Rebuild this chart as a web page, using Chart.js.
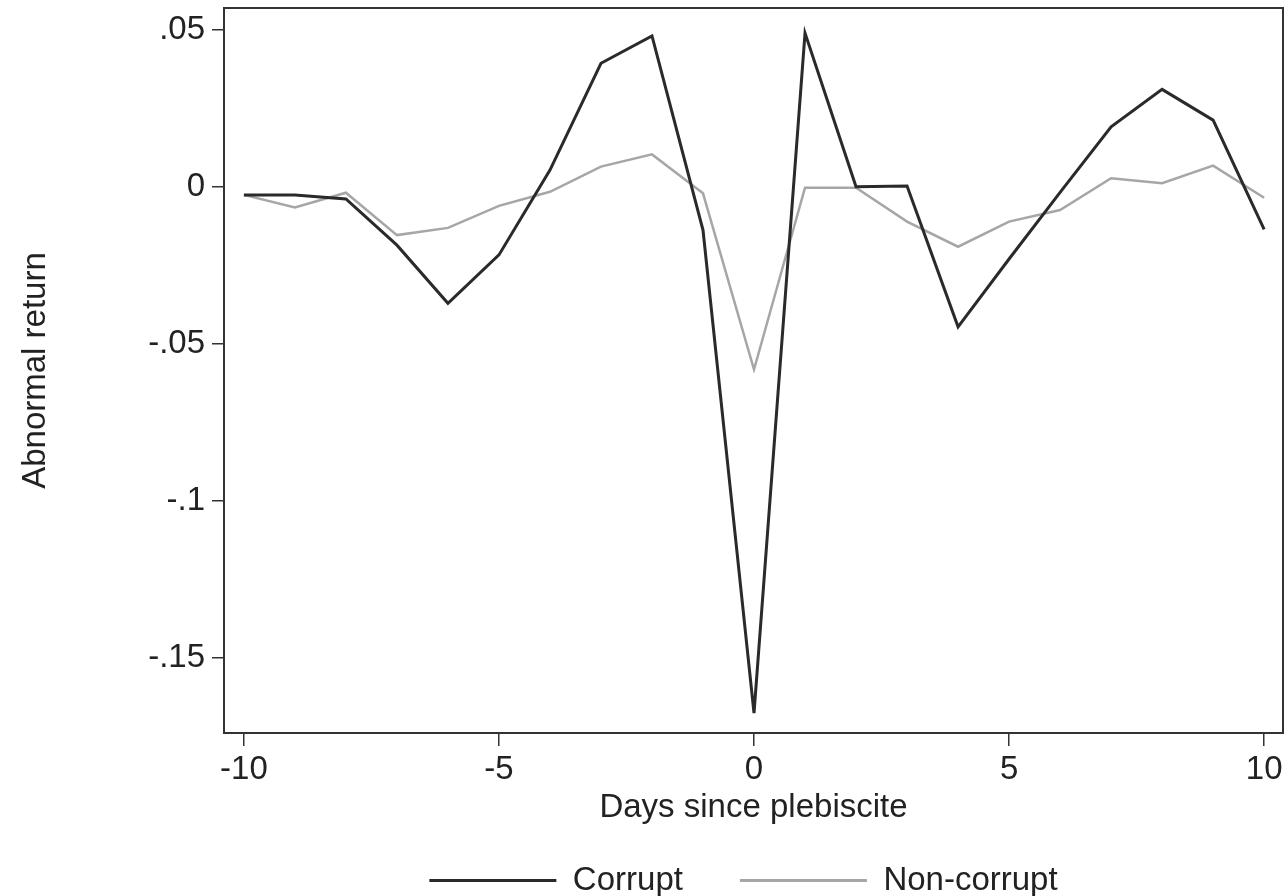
<!DOCTYPE html>
<html>
<head>
<meta charset="utf-8">
<title>Abnormal return around plebiscite</title>
<script src="https://cdn.jsdelivr.net/npm/chart.js@4.4.1/dist/chart.umd.min.js"></script>
<style>
  html, body { margin: 0; padding: 0; background: #fff; }
  #wrap { width: 1288px; height: 896px; }
</style>
</head>
<body>
<div id="wrap"><canvas id="chart" width="1288" height="896"></canvas></div>
<script>
// Days relative to the plebiscite
const days = [-10, -9, -8, -7, -6, -5, -4, -3, -2, -1, 0, 1, 2, 3, 4, 5, 6, 7, 8, 9, 10];

// Abnormal returns
const corrupt = [-0.0026, -0.0026, -0.0039, -0.0186, -0.0371, -0.0217, 0.0053, 0.0393, 0.0480, -0.0138,
  -0.1676, 0.0489, 0.0000, 0.0002, -0.0446, -0.0230, -0.0018, 0.0191, 0.0310, 0.0212, -0.0136];
const nonCorrupt = [-0.0026, -0.0066, -0.0019, -0.0154, -0.0131, -0.0061, -0.0016, 0.0064, 0.0103, -0.0021,
  -0.0582, -0.0003, -0.0003, -0.0111, -0.0191, -0.0111, -0.0074, 0.0027, 0.0011, 0.0067, -0.0035];

const xTicks = [-10, -5, 0, 5, 10];
const yTicks = [0.05, 0, -0.05, -0.1, -0.15];

const FONT = "'Liberation Sans', Arial, Helvetica, sans-serif";
const INK = "#222";

const fmtY = (v) => {
  if (Math.abs(v) < 1e-9) return "0";
  const s = Math.abs(v).toString().replace(/^0/, "");
  return (v < 0 ? "-" : "") + s;
};

// Frame round the plot area and keep the legend centred under it
const framePlugin = {
  id: "frame",
  afterLayout(chart) {
    const a = chart.chartArea;
    const lg = chart.legend;
    if (lg) {
      lg.left = a.left - 10;
      lg.right = a.right - 10;
      lg.top = 807;
    }
  },
  afterDatasetsDraw(chart) {
    const { ctx, chartArea: a } = chart;
    ctx.save();
    ctx.strokeStyle = "#333";
    ctx.lineWidth = 2;
    ctx.strokeRect(a.left, a.top, a.right - a.left, a.bottom - a.top);
    ctx.restore();
  }
};

new Chart(document.getElementById("chart").getContext("2d"), {
  type: "line",
  data: {
    datasets: [
      {
        label: "Corrupt",
        data: days.map((d, i) => ({ x: d, y: corrupt[i] })),
        borderColor: "#2a2a2a",
        backgroundColor: "#2a2a2a",
        borderWidth: 3,
        pointRadius: 0,
        tension: 0,
        fill: false,
      },
      {
        label: "Non-corrupt",
        data: days.map((d, i) => ({ x: d, y: nonCorrupt[i] })),
        borderColor: "#a6a6a6",
        backgroundColor: "#a6a6a6",
        borderWidth: 2.5,
        pointRadius: 0,
        tension: 0,
        fill: false,
      },
    ],
  },
  options: {
    responsive: false,
    animation: false,
    layout: { padding: { top: 8, right: 5, left: 0, bottom: 0 } },
    plugins: {
      tooltip: { enabled: false },
      legend: {
        position: "bottom",
        maxHeight: 68,
        labels: {
          color: INK,
          font: { family: FONT, size: 33 },
          boxWidth: 127,
          boxHeight: 3,
          padding: 57,
          generateLabels: (chart) =>
            Chart.defaults.plugins.legend.labels.generateLabels(chart).map(l => ({ ...l, lineWidth: 0 })),
        },
      },
    },
    scales: {
      x: {
        type: "linear",
        min: -10.39,
        max: 10.37,
        afterBuildTicks: (s) => { s.ticks = xTicks.map(v => ({ value: v })); },
        afterFit: (s) => { s.height = 95; },
        border: { display: false },
        grid: { display: true, drawOnChartArea: false, drawTicks: true, tickLength: 13, color: "#333", lineWidth: 1.5 },
        ticks: { color: INK, font: { family: FONT, size: 33 }, padding: 4, maxRotation: 0, callback: (v) => String(v) },
        title: { display: true, text: "Days since plebiscite", color: INK, font: { family: FONT, size: 33 }, padding: { top: 0, bottom: 0 } },
      },
      y: {
        type: "linear",
        min: -0.1739,
        max: 0.0569,
        afterBuildTicks: (s) => { s.ticks = yTicks.map(v => ({ value: v })); },
        afterFit: (s) => { s.width = 224; s.paddingTop = 0; s.paddingBottom = 0; },
        border: { display: false },
        grid: { display: true, drawOnChartArea: false, drawTicks: true, tickLength: 12, color: "#333", lineWidth: 1.5 },
        ticks: { color: INK, font: { family: FONT, size: 33 }, padding: 7, callback: (v) => fmtY(v) },
        title: { display: true, text: "Abnormal return", color: INK, font: { family: FONT, size: 33 }, padding: { top: 16, bottom: 4 } },
      },
    },
  },
  plugins: [framePlugin],
});
</script>
</body>
</html>
